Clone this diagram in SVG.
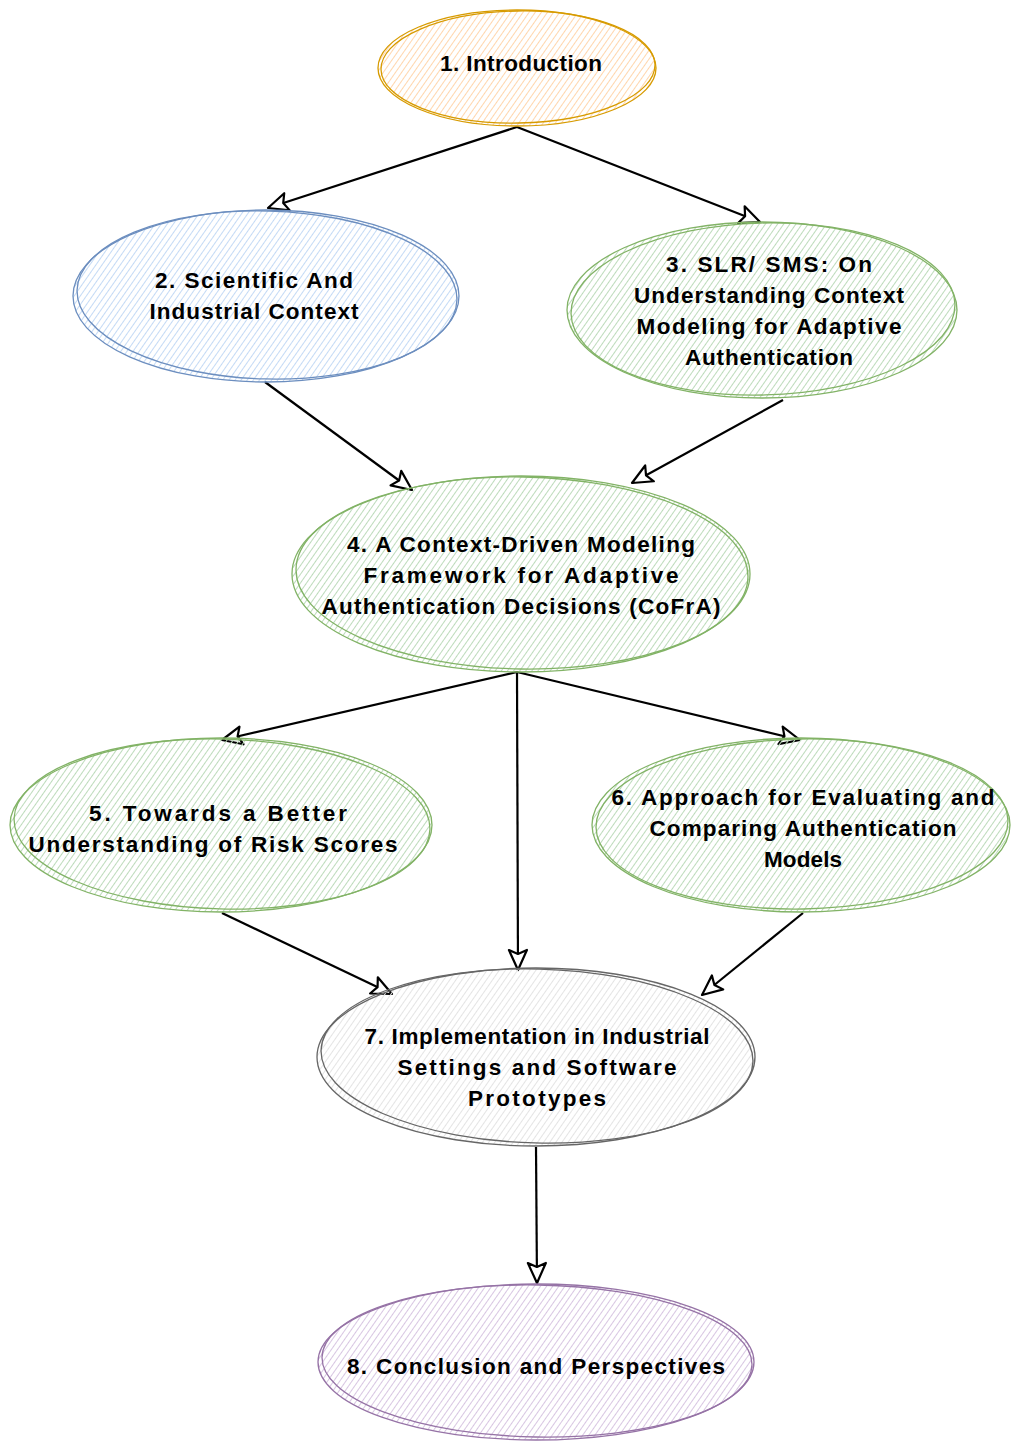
<svg xmlns="http://www.w3.org/2000/svg" width="1011" height="1443" viewBox="0 0 1011 1443">
<defs>
<style>
.t{font-family:"Liberation Sans",Arial,sans-serif;font-size:22.5px;font-weight:bold;fill:#000;text-anchor:middle;dominant-baseline:central}
.e{stroke-width:1.3}
.c{stroke:#000;stroke-width:2.2;fill:none;marker-end:url(#ah)}
</style>
<pattern id="hO" width="5" height="5" patternUnits="userSpaceOnUse" patternTransform="rotate(35)"><line x1="0" y1="0" x2="0" y2="5" stroke="#ffd6ad" stroke-width="2"/></pattern>
<pattern id="hB" width="5" height="5" patternUnits="userSpaceOnUse" patternTransform="rotate(35)"><line x1="0" y1="0" x2="0" y2="5" stroke="#c4daf5" stroke-width="2"/></pattern>
<pattern id="hG" width="5" height="5" patternUnits="userSpaceOnUse" patternTransform="rotate(35)"><line x1="0" y1="0" x2="0" y2="5" stroke="#bddbbb" stroke-width="2"/></pattern>
<pattern id="hW" width="5" height="5" patternUnits="userSpaceOnUse" patternTransform="rotate(35)"><line x1="0" y1="0" x2="0" y2="5" stroke="#e4e4e4" stroke-width="2"/></pattern>
<pattern id="hP" width="5" height="5" patternUnits="userSpaceOnUse" patternTransform="rotate(35)"><line x1="0" y1="0" x2="0" y2="5" stroke="#d8c6e2" stroke-width="2"/></pattern>
<marker id="ah" viewBox="0 0 12 12" refX="11" refY="6" markerWidth="24" markerHeight="24" markerUnits="userSpaceOnUse" orient="auto"><path d="M1,1.5 L11,6 L1,10.5 L3,6 Z" fill="#fff" stroke="#000" stroke-width="1.1" stroke-linejoin="round"/></marker>
</defs>
<rect width="1011" height="1443" fill="#fff"/>
<g id="connectors">
<path class="c" d="M517,127 L268,208"/>
<path class="c" d="M517,127 L760,222"/>
<path class="c" d="M265,382 L412,490"/>
<path class="c" d="M783,400 L632,483"/>
<path class="c" d="M517,672 L222,740"/>
<path class="c" d="M517,672 L518,970"/>
<path class="c" d="M517,672 L800,740"/>
<path class="c" d="M222,913 L392,994"/>
<path class="c" d="M803,913 L702,995"/>
<path class="c" d="M536,1147 L537,1283"/>
</g>
<g id="n1">
<ellipse cx="517" cy="68" rx="139" ry="58" fill="url(#hO)"/>
<ellipse class="e" cx="517" cy="68" rx="139" ry="58" fill="none" stroke="#d79b00"/>
<ellipse class="e" cx="518" cy="67" rx="137" ry="56" fill="none" stroke="#d79b00" transform="rotate(-1 518 67)"/>
<text class="t" x="521" y="63" textLength="162">1. Introduction</text>
</g>
<g id="n2">
<ellipse cx="266" cy="296" rx="193" ry="86" fill="url(#hB)"/>
<ellipse class="e" cx="266" cy="296" rx="193" ry="86" fill="none" stroke="#6c8ebf"/>
<ellipse class="e" cx="267" cy="295" rx="190" ry="84" fill="none" stroke="#6c8ebf" transform="rotate(1.5 267 295)"/>
<text class="t" x="254" y="280" textLength="198">2. Scientific And</text>
<text class="t" x="254" y="311" textLength="209">Industrial Context</text>
</g>
<g id="n3">
<ellipse cx="762" cy="310" rx="195" ry="88" fill="url(#hG)"/>
<ellipse class="e" cx="762" cy="310" rx="195" ry="88" fill="none" stroke="#82b366"/>
<ellipse class="e" cx="763" cy="309" rx="192" ry="86" fill="none" stroke="#82b366" transform="rotate(-1.5 763 309)"/>
<text class="t" x="769" y="264" textLength="206">3. SLR/ SMS: On</text>
<text class="t" x="769" y="295" textLength="270">Understanding Context</text>
<text class="t" x="769" y="326" textLength="265">Modeling for Adaptive</text>
<text class="t" x="769" y="357" textLength="168">Authentication</text>
</g>
<g id="n4">
<ellipse cx="521" cy="574" rx="229" ry="98" fill="url(#hG)"/>
<ellipse class="e" cx="521" cy="574" rx="229" ry="98" fill="none" stroke="#82b366"/>
<ellipse class="e" cx="522" cy="573" rx="226" ry="96" fill="none" stroke="#82b366" transform="rotate(1 522 573)"/>
<text class="t" x="521" y="544" textLength="348">4. A Context-Driven Modeling</text>
<text class="t" x="521" y="575" textLength="315">Framework for Adaptive</text>
<text class="t" x="521" y="606" textLength="399">Authentication Decisions (CoFrA)</text>
</g>
<g id="n5">
<ellipse cx="221" cy="825" rx="211" ry="87" fill="url(#hG)"/>
<ellipse class="e" cx="221" cy="825" rx="211" ry="87" fill="none" stroke="#82b366"/>
<ellipse class="e" cx="222" cy="824" rx="208" ry="85" fill="none" stroke="#82b366" transform="rotate(1.5 222 824)"/>
<text class="t" x="218" y="813" textLength="258">5. Towards a Better</text>
<text class="t" x="213" y="844" textLength="369">Understanding of Risk Scores</text>
</g>
<g id="n6">
<ellipse cx="801" cy="825" rx="209" ry="87" fill="url(#hG)"/>
<ellipse class="e" cx="801" cy="825" rx="209" ry="87" fill="none" stroke="#82b366"/>
<ellipse class="e" cx="802" cy="824" rx="206" ry="85" fill="none" stroke="#82b366" transform="rotate(-1 802 824)"/>
<text class="t" x="803" y="797" textLength="383">6. Approach for Evaluating and</text>
<text class="t" x="803" y="828" textLength="307">Comparing Authentication</text>
<text class="t" x="803" y="859" textLength="78">Models</text>
</g>
<g id="n7">
<ellipse cx="536" cy="1057" rx="219" ry="89" fill="url(#hW)"/>
<ellipse class="e" cx="536" cy="1057" rx="219" ry="89" fill="none" stroke="#666"/>
<ellipse class="e" cx="537" cy="1056" rx="216" ry="87" fill="none" stroke="#666" transform="rotate(1.5 537 1056)"/>
<text class="t" x="537" y="1036" textLength="345">7. Implementation in Industrial</text>
<text class="t" x="537" y="1067" textLength="279">Settings and Software</text>
<text class="t" x="537" y="1098" textLength="138">Prototypes</text>
</g>
<g id="n8">
<ellipse cx="536" cy="1362" rx="218" ry="78" fill="url(#hP)"/>
<ellipse class="e" cx="536" cy="1362" rx="218" ry="78" fill="none" stroke="#9673a6"/>
<ellipse class="e" cx="537" cy="1361" rx="215" ry="76" fill="none" stroke="#9673a6" transform="rotate(1 537 1361)"/>
<text class="t" x="536" y="1366" textLength="378">8. Conclusion and Perspectives</text>
</g>
</svg>
